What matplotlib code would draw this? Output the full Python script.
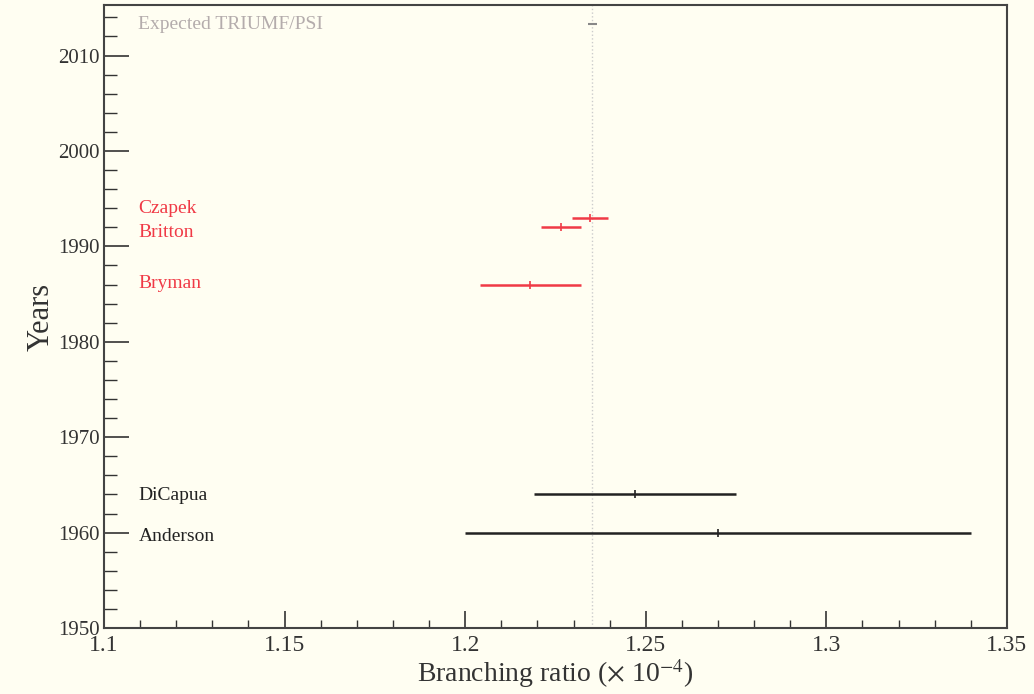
import numpy as np
import matplotlib
matplotlib.use("Agg")
import matplotlib.pyplot as plt
from matplotlib.ticker import MultipleLocator

plt.rcParams['font.family'] = ['Liberation Serif', 'DejaVu Serif']
plt.rcParams['mathtext.fontset'] = 'stix'

# measurements (branching ratio x 1e-4)
names = ['Anderson', 'DiCapua', 'Bryman', 'Britton', 'Czapek']
years = [1960, 1964, 1986, 1992, 1993]
ratio = [1.27, 1.247, 1.218, 1.2265, 1.2346]
err = [0.07, 0.028, 0.014, 0.0056, 0.0050]
colors = ['#222222', '#222222', '#f03a46', '#f03a46', '#f03a46']
label_years = [1959.6, 1963.9, 1986.1, 1991.5, 1994.0]

expected_name = 'Expected TRIUMF/PSI'
expected_year = 2013.3
expected_ratio = 1.2352
expected_err = 0.0012
theory = 1.2352

bg = '#fffef2'
fig = plt.figure(figsize=(10.34, 6.94), dpi=100, facecolor=bg)
ax = fig.add_axes([0.1006, 0.0951, 0.8732, 0.8977], facecolor=bg)

ax.axvline(theory, color='#cccccc', lw=1, ls=':', zorder=0)

for n, y, r, e, c, ly in zip(names, years, ratio, err, colors, label_years):
    ax.errorbar(r, y, xerr=e, fmt='|', color=c, ms=6, mew=1.2, elinewidth=1.8, capsize=0)
    ax.text(1.1095, ly, n, color=c, fontsize=14, va='center', ha='left')

ax.errorbar(expected_ratio, expected_year, xerr=expected_err, fmt='none', ecolor='#888888', elinewidth=1.5)
ax.text(1.1095, expected_year, expected_name, color='#b4acac', fontsize=14, va='center', ha='left')

ax.set_xlim(1.1, 1.35)
ax.set_ylim(1950, 2015.3)
ax.xaxis.set_major_locator(MultipleLocator(0.05))
ax.xaxis.set_minor_locator(MultipleLocator(0.01))
ax.yaxis.set_major_locator(MultipleLocator(10))
ax.yaxis.set_minor_locator(MultipleLocator(2))
ax.set_xticks([1.1, 1.15, 1.2, 1.25, 1.3, 1.35])
ax.set_xticklabels(['1.1', '1.15', '1.2', '1.25', '1.3', '1.35'])
ax.tick_params(which='both', direction='in', color='#333333', labelcolor='#333333')
ax.tick_params(axis='y', which='major', length=18, width=1.2, labelsize=15, pad=3)
ax.tick_params(axis='y', which='minor', length=9, width=1.0)
ax.tick_params(axis='x', which='major', length=12, width=1.2, labelsize=17, pad=5)
ax.tick_params(axis='x', which='minor', length=6, width=1.0)
for s in ax.spines.values():
    s.set_color('#444444')
    s.set_linewidth(1.5)

ax.set_xlabel(r'Branching ratio ($\times$ 10$^{-4}$)', fontsize=20, color='#333333', labelpad=1)
ax.set_ylabel('Years', fontsize=22, color='#333333', labelpad=2)

fig.savefig('out.png', dpi=100, facecolor=bg)
